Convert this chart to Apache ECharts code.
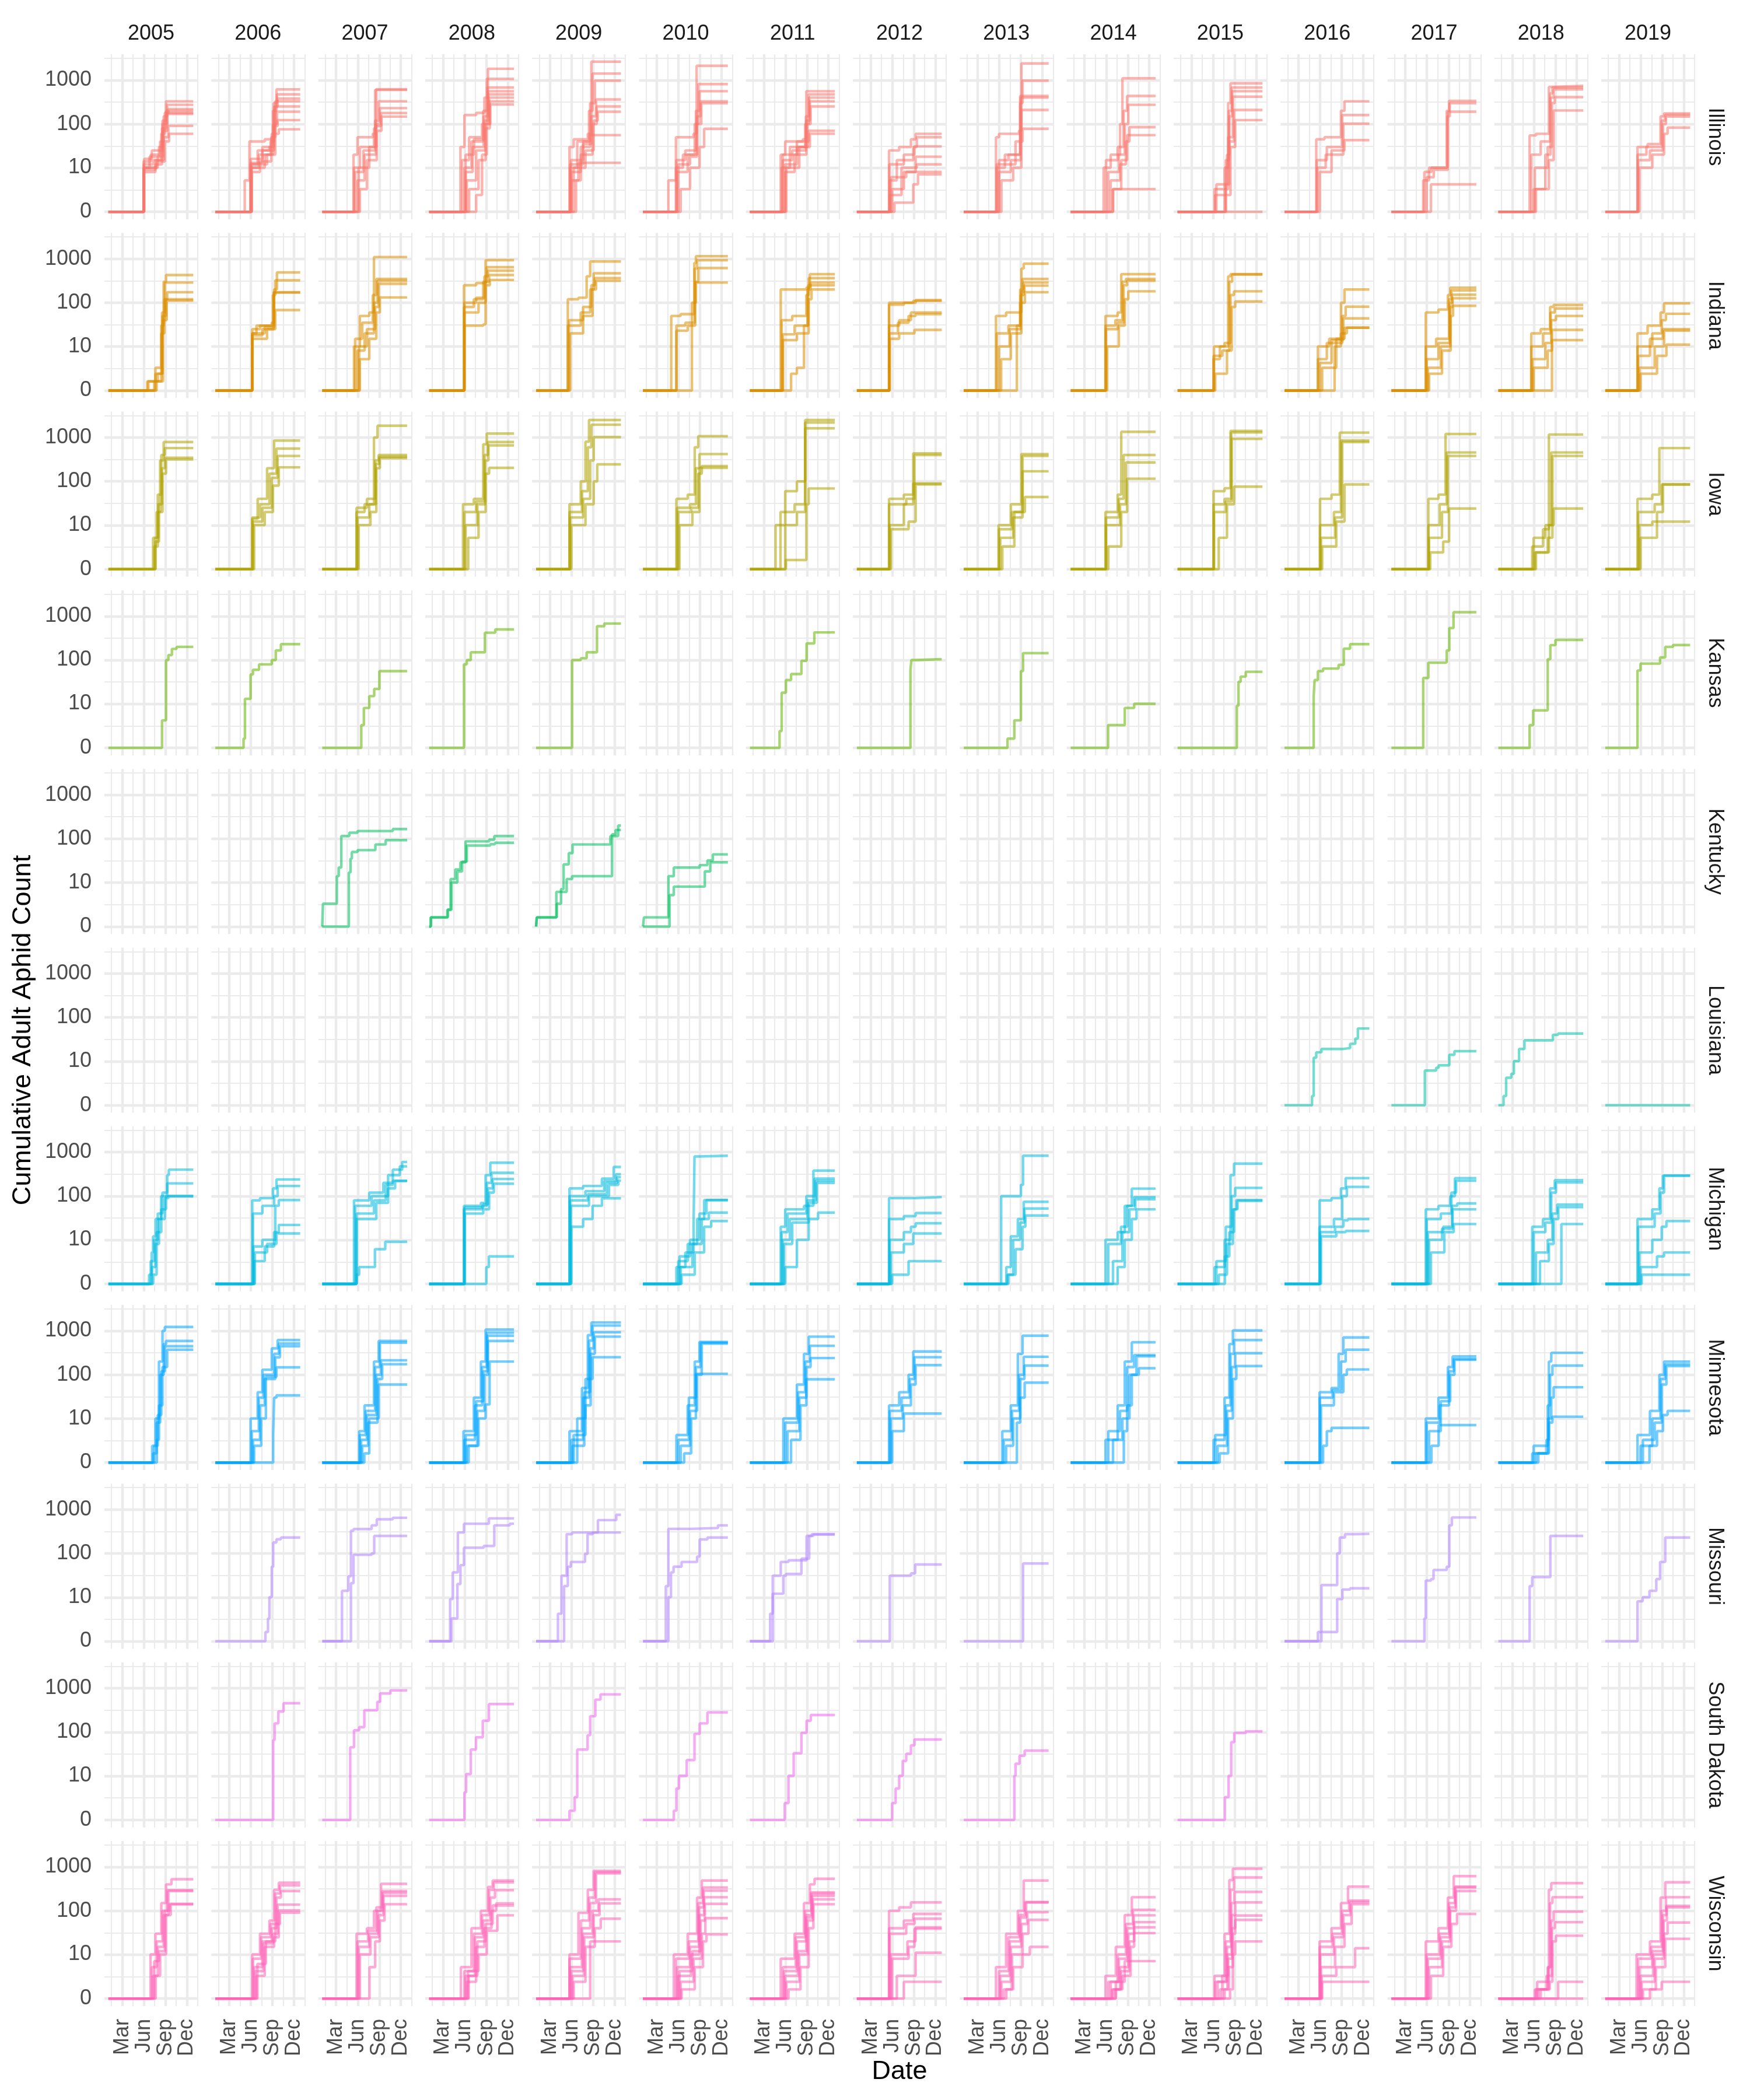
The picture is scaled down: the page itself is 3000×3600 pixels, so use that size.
<!DOCTYPE html>
<html><head><meta charset="utf-8">
<script src="https://cdn.jsdelivr.net/npm/echarts@6/dist/echarts.min.js"></script>
<style>html,body{margin:0;padding:0;background:#fff}#c{width:3000px;height:3600px}</style>
</head><body><div id="c"></div>
<script>
// ---------------- DATA ----------------
const years = [2005,2006,2007,2008,2009,2010,2011,2012,2013,2014,2015,2016,2017,2018,2019];
const states = ['Illinois','Indiana','Iowa','Kansas','Kentucky','Louisiana','Michigan','Minnesota','Missouri','South Dakota','Wisconsin'];
const stateColors = ['#F8766D','#DB8E00','#AEA200','#64B200','#00BD5C','#00C1A7','#00BADE','#00A6FF','#B385FF','#EF67EB','#FF63B6'];
const monthDays = [59,151,243,334];          // Mar 1, Jun 1, Sep 1, Dec 1 (day of year)
const monthLabels = ['Mar','Jun','Sep','Dec'];
const minorDays = [13,105,197,288.5,380];
const countBreaks = [0,10,100,1000];
const countLabels = ['0','10','100','1000'];
const LAST_DAY = 361;
// each line: [day, cumulative count, day, count, ...] change points; every line starts at day 0 with 0
const illinois = [
 [[150,10,175,18,215,30,230,120,245,330],[150,14,180,20,220,40,235,150,250,275],[150,12,190,15,225,60,240,180,255,220],[150,9,200,12,228,80,245,200],[152,16,185,25,230,100,250,180],[150,10,210,18,232,70,250,170],[150,8,200,15,235,50,255,91],[152,10,205,14,240,40,258,60]],
 [[125,5,145,40,210,45,245,200,260,617],[150,12,180,25,230,30,248,300,262,475],[152,10,185,20,235,40,250,250,265,380],[150,16,200,30,240,60,255,330],[155,8,190,14,238,50,255,251],[152,10,210,20,245,100,262,191],[150,13,200,25,250,90,265,123],[155,12,220,20,255,60,270,76]],
 [[133,20,150,50,215,60,225,600],[135,10,160,30,220,80,230,620],[140,8,175,25,225,120,240,330],[150,5,180,20,228,100,245,230],[155,10,200,30,230,90,250,178],[160,3,190,15,232,70,252,148]],
 [[133,30,150,160,200,180,235,400,250,1820],[140,15,170,50,225,100,245,1070],[150,10,180,40,230,200,248,680],[155,8,185,30,232,150,250,560],[155,20,190,45,235,120,252,475],[160,5,200,25,238,100,255,400],[170,3,210,15,240,80,258,330],[200,2,225,20,245,100,260,280]],
 [[142,30,160,45,220,60,235,2630],[145,10,175,40,225,200,240,1410],[150,8,190,30,230,300,250,975],[148,15,200,35,235,150,255,363],[150,5,190,20,240,100,258,251],[160,10,210,25,245,120,262,191],[145,12,200,40,230,56],[170,5,180,13]],
 [[108,5,140,50,215,60,228,2130],[140,10,170,20,220,100,235,810],[142,15,180,25,225,200,240,560],[145,8,190,20,230,150,245,330],[150,12,200,18,230,100,248,300],[160,3,200,10,240,30,260,78]],
 [[131,20,150,40,225,45,240,560],[135,10,170,30,235,100,250,475],[140,15,180,25,238,150,252,400],[150,8,190,20,240,120,255,330],[150,12,200,30,245,100,258,251],[140,20,200,40,250,70],[155,10,210,30,255,60]],
 [[137,25,180,30,230,45,250,60],[140,5,170,15,240,30,255,50],[138,12,200,20,245,31],[150,3,200,8,250,18],[140,2,190,10,255,12],[145,6,210,8],[160,1,240,4,260,7]],
 [[137,50,150,60,235,70,245,2400],[140,10,175,20,240,300,250,975],[150,15,190,20,240,436],[150,8,200,15,242,400],[160,5,210,10,245,209],[140,12,220,40,250,78]],
 [[140,10,170,20,210,100,220,1100],[150,15,200,30,225,200,240,436],[160,8,205,20,230,100,245,275],[170,5,210,12,235,40,250,85],[180,3,215,15,240,56],[180,3]],
 [[157,3,200,10,215,300,225,850],[160,2,205,15,218,200,230,680],[165,4,210,20,220,150,232,560],[200,3,215,50,235,420],[205,4,220,40,240,209],[205,2,225,30,245,123],[]],
 [[135,45,170,50,240,200,255,330],[137,15,180,30,245,160],[140,10,175,20,250,102],[150,8,200,25,255,43]],
 [[135,5,160,10,235,200,245,338],[140,8,170,10,238,150,248,300],[150,6,180,9,240,191],[168,4]],
 [[133,55,160,60,215,700,225,740],[140,20,180,40,220,500,230,680],[150,3,200,20,222,400,235,617],[155,10,210,30,228,300,240,410],[160,3,215,15,235,204]],
 [[137,30,180,35,235,150,250,174],[137,20,175,30,240,120,255,162],[140,15,190,25,245,100,258,148],[145,10,200,20,250,60,265,83]]
];
const indiana = [
 [[165,1,200,3,225,30,235,300,245,427],[170,1,210,2,228,60,240,288],[195,1,225,20,238,120,250,174],[200,2,230,50,245,120],[205,1,232,40,248,112]],
 [[157,20,175,30,240,35,250,200,262,490],[157,25,190,30,245,150,255,324],[157,18,200,25,248,174],[157,20,210,28,250,170],[157,15,220,25,255,68]],
 [[135,10,160,50,200,60,220,1100],[140,15,170,35,215,150,230,347],[150,8,180,20,220,100,235,316],[157,10,190,25,225,80,240,270],[160,5,200,15,230,60,245,132]],
 [[148,250,200,280,240,930],[148,80,190,120,230,300,245,645],[150,100,200,130,235,400,250,537],[150,60,210,100,240,300,255,427],[150,30,230,32,240,250,258,330]],
 [[135,120,180,130,215,400,230,870],[135,30,190,60,230,200,245,468],[140,40,200,80,235,250,250,363],[145,20,200,50,240,200,255,316]],
 [[120,50,160,55,218,800,225,1150],[142,30,180,35,220,600,230,930],[142,23,190,30,222,300,235,617],[208,100,225,288]],
 [[131,200,240,220,255,447],[135,40,180,50,240,150,250,363],[140,19,190,30,245,200,258,288],[140,14,200,20,250,120,262,200],[175,2,200,3,230,30,248,250]],
 [[137,100,250,115],[137,90,200,100,240,110],[137,30,180,40,230,60],[138,20,175,35,220,50,250,55],[140,15,180,20,245,24]],
 [[137,50,180,60,245,600,255,775],[140,20,190,30,240,200,250,347],[150,10,195,25,242,150,255,288],[159,5,200,20,245,180,258,245],[226,30,240,100,260,174]],
 [[148,50,200,60,215,447],[148,30,190,40,220,300,235,347],[150,25,200,35,225,250,240,316],[155,10,205,30,230,120,245,182]],
 [[153,5,180,10,215,400,225,447],[153,6,190,8,220,300,232,440],[155,10,200,12,225,150,240,182],[160,2,210,8,230,80,245,107]],
 [[142,10,190,15,240,100,255,200],[142,5,180,12,245,50,260,81],[150,4,200,14,250,44],[213,10,240,20,265,27],[160,3,220,15,255,27]],
 [[146,60,200,70,240,150,250,219],[146,10,190,15,245,120,255,191],[150,5,200,12,248,100,258,152],[155,3,210,10,250,80,260,126],[160,2,215,8,252,50,262,85]],
 [[140,20,180,25,220,80,235,89],[140,10,190,20,222,60,240,74],[145,5,200,12,225,40,245,50],[150,3,210,8,228,24],[228,14]],
 [[137,20,180,30,235,60,250,97],[137,10,200,20,240,40,258,56],[140,6,190,15,245,25],[145,3,210,10,250,23],[150,2,220,6,260,11]]
];
const iowa = [
 [[190,5,205,20,220,300,235,790],[195,3,210,50,225,400,240,575],[200,5,212,30,228,200,240,347],[200,4,215,20,230,150,245,316]],
 [[157,14,180,40,220,200,250,850],[157,15,190,30,230,150,260,560],[160,12,200,25,240,120,265,380],[165,10,210,20,245,80,270,209]],
 [[146,20,180,30,220,1000,235,1860],[146,25,190,40,225,300,240,400],[150,15,200,30,228,250,242,363],[155,10,205,20,230,200,245,340]],
 [[144,30,190,40,230,700,245,1230],[150,20,200,35,235,400,250,790],[155,10,205,30,238,300,252,660],[166,5,210,20,240,150,255,204]],
 [[142,30,190,100,210,800,225,2500],[142,20,195,60,220,600,235,1950],[145,15,200,40,230,300,245,1025],[150,10,210,30,245,100,260,245]],
 [[142,40,190,50,220,600,235,1070],[145,25,200,30,225,200,240,420],[150,20,205,25,235,150,250,224],[155,10,210,20,240,204]],
 [[109,10,150,60,200,100,235,2500],[130,20,190,30,235,2190],[150,10,200,20,235,1620],[153,1,240,30,250,69]],
 [[137,40,200,50,240,436],[137,30,210,40,245,400],[140,10,200,30,240,90],[145,8,220,12,250,85]],
 [[148,10,200,30,245,420],[150,8,205,20,250,380],[155,5,210,15,250,170],[164,3,215,20,260,44]],
 [[148,20,200,50,215,1350],[150,15,205,40,225,400],[150,10,210,30,235,270],[160,3,215,20,240,115]],
 [[153,60,200,70,225,1410],[153,30,200,40,228,1300],[155,20,205,35,230,930],[175,5,210,30,240,76]],
 [[151,40,200,50,235,1290],[151,10,210,20,240,850],[155,5,215,15,245,790],[160,3,220,12,255,85]],
 [[157,40,200,50,230,1200],[157,10,205,30,235,457],[160,5,215,20,240,380],[165,2,220,4,245,24]],
 [[144,3,190,8,215,1170],[150,5,200,10,225,457],[155,2,210,5,230,380],[160,2,215,10,235,24]],
 [[137,40,200,50,230,575],[140,20,210,30,240,85],[145,10,200,12],[150,5,220,20,245,85]]
];
const kansas = [
 [[228,4,245,100,255,130,270,180,290,200]],
 [[120,1,126,13,150,47,160,60,186,80,240,100,257,166,279,230]],
 [[166,3,177,8,200,15,221,22,243,56]],
 [[148,80,160,100,177,150,237,420,281,500]],
 [[153,100,190,110,215,150,259,590,290,680]],
 [],
 [[126,2,135,18,153,35,175,48,219,96,241,240,274,427]],
 [[228,60,232,100,250,105]],
 [[186,1,215,4,243,56,252,144]],
 [[159,3,230,8,270,10]],
 [[252,9,259,32,268,42,290,54]],
 [[124,15,128,35,142,56,164,64,230,78,252,182,279,230]],
 [[135,39,157,87,230,90,235,166,246,537,264,1230]],
 [[133,3,148,7,210,105,221,219,243,288]],
 [[137,58,150,83,233,115,255,200,288,220]]
];
const kentucky = [
 [],[],
 [[3,3,62,14,70,22,81,115,115,137,150,150,300,166],[113,17,120,35,126,50,150,55,226,74,270,93]],
 [[7,1,77,2,91,12,111,20,133,29,155,87,255,95,277,115],[7,1,80,2,95,10,120,18,140,30,160,70,260,75,280,81]],
 [[3,1,88,3,106,7,117,26,139,47,155,74,316,115,349,200],[3,1,86,6,130,12,153,14,323,126,338,158]],
 [[4,1,108,14,131,22,241,25,274,32,297,44],[113,5,131,8,263,18,286,29]],
 [],[],[],[],[],[],[],[],[]
];
const louisiana = [
 [],[],[],[],[],[],[],[],[],[],[],
 [[117,1,124,12,135,16,157,19,246,20,279,25,301,33,312,56]],
 [[142,6,190,7,201,8,246,14,268,17]],
 [[22,1,33,4,55,5,66,10,88,19,111,30,232,40,254,43]],
 [[]]
];
const michigan = [
 [[173,1,184,5,190,12,201,30,224,100,250,300,257,400],[180,3,195,10,210,40,230,120,250,195],[185,2,200,8,215,30,240,90,255,100],[190,1,205,15,225,50,245,100]],
 [[157,80,190,90,245,150,260,240],[160,40,200,60,250,100,265,170],[162,7,200,10,255,60,270,81],[165,3,210,7,250,15,270,22],[168,5,220,8,260,14]],
 [[135,80,200,120,260,200,300,400,340,600],[140,60,210,100,280,300,330,475],[146,40,220,80,270,180,300,224],[146,30,230,70,280,150,310,220],[146,1,157,2,224,6,268,9]],
 [[148,60,220,70,240,300,260,575],[148,50,225,60,245,200,265,340],[150,55,230,65,250,150,270,245],[152,40,230,50,255,120,275,191],[243,2,254,4]],
 [[142,150,200,170,280,250,330,460],[142,100,210,130,290,220,340,316],[145,80,220,110,300,200,345,270],[148,60,225,100,310,180,350,224],[150,20,200,30,240,60,280,89]],
 [[142,2,180,5,215,20,219,800,240,830],[150,3,190,8,230,30,260,81],[155,4,200,10,240,40,270,81],[160,2,210,8,250,30,280,42],[164,1,220,5,260,20,290,27]],
 [[131,20,150,50,230,60,270,380],[135,15,160,40,240,100,275,251],[140,10,170,30,245,80,280,224],[145,8,180,25,250,70,285,200],[150,2,200,10,250,30,290,42]],
 [[137,90,250,95],[137,30,200,35,250,41],[140,10,200,15,230,20,250,24],[145,5,200,8,240,14],[150,1,220,3]],
 [[159,100,243,180,252,830],[181,2,200,12,230,30,255,74],[185,1,210,10,240,25,258,52],[190,1,220,6,250,20,262,36]],
 [[148,10,200,15,230,60,260,148],[160,8,214,20,240,60,270,95],[180,3,220,15,250,50,275,85],[200,2,230,10,260,30,280,50]],
 [[157,2,200,10,225,300,240,550],[165,3,205,20,230,100,245,154],[175,1,210,8,235,50,250,81],[201,4,220,15,240,50,255,78]],
 [[149,80,200,90,240,150,260,257],[149,20,210,30,245,100,265,162],[152,15,215,20,250,28,270,30],[155,12,220,15,260,16]],
 [[146,50,200,60,250,100,270,257],[150,30,210,40,255,120,275,224],[155,15,220,20,258,60,280,68],[160,10,215,18,260,50],[168,5,225,15,265,23]],
 [[144,20,190,30,220,150,240,230],[150,15,200,25,225,120,245,204],[160,5,210,10,230,40,250,64],[177,3,215,8,235,30,255,56],[268,23]],
 [[137,30,200,50,230,150,245,295],[140,20,210,40,235,120,250,290],[145,5,200,10,240,20,260,27],[150,2,220,4,250,5],[155,1]]
];
const minnesota = [
 [[186,2,200,10,215,200,230,1000,240,1230],[190,1,205,8,220,100,235,500,245,590],[195,2,210,12,225,120,240,447],[206,3,215,20,230,150,250,372]],
 [[150,10,180,40,200,130,240,400,265,617],[155,5,185,30,205,100,250,300,270,513],[160,3,190,20,210,80,255,250,275,447],[165,2,195,10,215,90,260,148],[246,4,250,30,260,34]],
 [[157,5,180,20,220,200,240,590],[160,4,185,15,225,150,245,537],[165,3,190,12,230,100,250,214],[170,2,195,8,235,80,255,174],[179,1,200,10,240,60]],
 [[146,5,190,30,220,200,240,1070],[150,3,195,20,225,150,245,910],[155,4,200,25,230,120,248,775],[160,2,205,15,235,100,250,590],[168,2,210,10,240,21,257,200]],
 [[142,5,195,50,220,800,235,1550],[150,3,200,30,225,600,240,1320],[155,2,205,40,230,400,245,930],[160,4,210,20,232,300,250,740],[175,10,210,80,240,251]],
 [[142,4,190,20,220,200,240,560],[150,3,195,30,225,150,245,540],[160,2,200,15,230,100,250,513],[175,1,205,10,225,105]],
 [[142,10,200,60,230,300,250,740],[150,8,205,40,235,200,255,457],[160,5,210,30,240,150,258,240],[175,3,215,20,240,79]],
 [[137,20,180,40,220,100,240,340],[140,15,190,30,225,80,245,251],[145,10,195,20,230,60,250,166],[150,5,200,13]],
 [[164,5,200,20,230,300,250,775],[170,3,205,15,235,100,255,257],[180,2,210,10,240,80,258,162],[226,8,240,30,259,66]],
 [[148,3,200,20,230,200,260,550],[160,5,210,15,240,150,270,282],[180,3,220,10,250,100,280,263],[226,5,240,20,260,100,290,141]],
 [[153,3,200,30,220,500,235,1025],[160,4,205,20,225,300,240,617],[170,2,210,15,230,150,245,310],[179,1,215,10,235,80,250,158]],
 [[149,40,200,50,230,300,250,710],[150,30,205,45,240,200,260,372],[155,20,210,40,250,100,265,132],[164,2,180,5,200,6]],
 [[146,10,200,30,240,150,260,263],[150,8,205,20,245,120,265,230],[160,5,210,25,250,100,268,219],[170,2,201,7]],
 [[144,1,205,3,215,200,225,316],[150,2,210,20,220,100,230,162],[160,1,212,10,225,30,235,52],[170,1,215,8,230,11]],
 [[137,4,190,15,230,100,250,200],[150,2,200,10,235,80,255,174],[160,3,210,8,240,60,260,158],[188,2,220,5,245,12,265,15]]
];
const missouri = [
 [],
 [[213,1,224,3,230,10,240,50,246,178,260,210,279,230]],
 [[84,14,111,30,122,330,133,360,210,436,232,600,300,650],[122,21,133,93,210,100,221,251]],
 [[89,9,100,37,122,300,148,475,254,630],[95,3,120,20,133,54,148,135,232,148,277,436,343,475]],
 [[93,4,108,31,130,275,153,300,263,575,341,760],[119,18,135,50,148,64,208,98,219,275,241,300]],
 [[97,18,108,363,208,380,319,436],[108,10,119,37,130,50,164,64,230,85,241,209,274,230]],
 [[86,4,97,31,131,64,164,70,241,251,263,275],[97,12,142,31,153,34,219,76,252,251,270,270]],
 [[140,31,230,35,248,56]],
 [[252,59]],
 [],[],
 [[142,1,157,19,224,100,235,230,257,275,301,280],[157,1,224,9,246,15,279,16]],
 [[140,3,146,24,168,26,179,42,235,50,246,436,257,660]],
 [[133,18,144,29,221,251]],
 [[137,8,159,10,188,14,217,26,233,64,255,230]]
];
const southDakota = [
 [],
 [[246,66,252,158,268,295,290,457]],
 [[119,45,135,110,157,130,179,316,234,490,246,760,290,890]],
 [[150,4,157,11,177,40,199,76,228,182,254,436]],
 [[142,1,164,3,175,40,219,85,230,230,252,550,274,725]],
 [[131,1,142,5,153,10,186,23,219,91,241,158,274,282]],
 [[148,2,164,10,186,33,219,96,241,182,259,245]],
 [[150,2,165,5,180,10,195,22,210,32,230,50,245,68]],
 [[215,10,220,19,237,29,259,38]],
 [],
 [[201,3,217,10,228,59,241,96,290,104]],
 [],[],[],[]
];
const wisconsin = [
 [[179,10,200,30,225,150,245,400,268,525],[185,5,205,20,230,100,250,295],[190,3,210,15,235,80,255,282],[195,7,215,12,240,100,260,144],[201,3,220,10,245,80,265,140]],
 [[157,10,190,30,230,60,250,300,270,436],[160,8,195,25,235,50,255,250,275,380],[165,5,200,20,240,40,260,200,279,282],[170,4,205,18,245,30,265,138],[175,3,210,15,250,25,270,102],[179,6,215,20,255,50,275,91]],
 [[146,30,190,40,220,100,250,410],[150,20,195,35,230,120,255,282],[155,15,200,30,235,100,258,257],[160,10,205,25,240,80,260,219],[201,5,225,20,245,60,265,141]],
 [[135,5,180,40,220,100,250,350,270,490],[150,4,190,30,225,80,255,300,275,447],[155,3,195,25,230,60,260,200,280,295],[160,2,200,15,235,40,265,100,285,148],[168,3,205,20,240,50,270,132],[165,4,210,10,245,35,290,79]],
 [[142,10,180,90,220,300,245,810],[142,8,190,60,225,200,250,760],[145,5,195,40,230,150,255,710],[150,4,200,30,240,100,265,182],[155,3,205,25,245,80,270,148],[160,2,210,15,250,40,275,66],[230,20]],
 [[131,10,190,30,230,200,250,490],[140,8,195,20,235,150,255,340],[145,5,200,15,238,120,258,288],[150,3,205,10,240,80,260,204],[155,4,210,12,245,60,263,144],[160,2,215,8,250,30,265,68],[164,1,220,5,255,20,270,29]],
 [[131,8,190,30,230,150,255,400,275,537],[140,5,195,25,235,100,260,263],[145,4,200,20,238,80,262,245],[150,3,205,12,240,70,265,219],[155,2,210,10,245,60,268,182],[164,1,215,5,250,40,270,141]],
 [[137,100,180,120,230,155],[137,40,200,60,240,85],[140,30,210,50,245,66],[145,10,215,20,250,42],[150,8,220,15,245,39],[170,3,250,11],[200,2]],
 [[137,5,180,30,230,100,255,490],[150,4,190,25,235,80,260,158],[155,3,195,20,240,70,265,155],[160,2,200,15,245,50,270,93],[170,1,205,10,250,30,275,62],[181,1,210,5,250,10,281,15]],
 [[148,3,192,15,230,80,260,204],[160,2,200,10,235,50,265,105],[170,2,205,8,240,40,268,79],[175,1,210,5,245,30,270,55],[180,1,215,4,250,20,270,42],[190,1,220,3,255,15,270,31],[192,2,230,7]],
 [[157,3,200,30,220,500,235,910],[160,2,205,20,225,300,240,575],[170,2,210,15,228,150,242,270],[180,1,212,10,230,80,245,155],[190,3,215,8,232,40,245,78],[200,1,218,5,235,30,245,62],[223,1,235,10,245,20]],
 [[149,20,200,40,240,150,270,355],[150,15,205,30,245,100,275,170],[152,10,210,25,250,80,280,158],[155,5,215,15,255,50,285,141],[158,3,220,5,300,14],[160,2]],
 [[146,20,200,40,240,200,265,617],[150,10,205,30,245,150,270,355],[155,8,210,25,248,120,272,340],[160,5,215,20,250,100,275,282],[168,3,220,15,255,50,279,85]],
 [[155,1,205,3,215,300,225,427],[160,1,210,5,220,150,230,204],[165,2,212,5,225,60,235,96],[170,1,215,3,228,40,240,55],[180,1,218,2,230,20,245,27],[254,2],[]],
 [[133,10,190,20,235,200,255,447],[140,8,195,15,240,100,258,204],[145,5,200,12,245,80,260,129],[150,3,205,10,248,60,262,120],[155,2,210,8,250,30,265,54],[160,1,215,5,255,23],[190,1,240,2]]
];
const stateData = [illinois, indiana, iowa, kansas, kentucky, louisiana, michigan, minnesota, missouri, southDakota, wisconsin];

// ---------------- LAYOUT / STYLE ----------------
const L0 = 179, T0 = 93, PX = 183.29, PY = 306.3, PW = 160, PH = 283;
const X_MIN = -17, X_MAX = 380, Y_MIN = -0.171, Y_MAX = 3.59;
const FONT = '"Liberation Sans", Arial, Helvetica, sans-serif';
const GRID_COL = '#EBEBEB';

// pseudo-log transform (sigma = 1, base 10), as the axis of the source chart
const tr = v => Math.asinh(v / 2) / Math.LN10;
const yMajor = countBreaks.map(tr);
const yMinor = [];
for (let k = 0; k < yMajor.length - 1; k++) yMinor.push((yMajor[k] + yMajor[k + 1]) / 2);
yMinor.push(yMajor[yMajor.length - 1] + 0.5);

function linePoints(flat) {
  const pts = [[0, 0]];
  for (let k = 0; k < flat.length; k += 2) pts.push([flat[k], tr(flat[k + 1])]);
  pts.push([LAST_DAY, pts[pts.length - 1][1]]);
  return pts;
}

const grid = [], xAxis = [], yAxis = [], series = [], graphic = [];
const nR = states.length, nC = years.length;

const gridLineData = [
  ...monthDays.map(v => ({ xAxis: v, lineStyle: { width: 4.4 } })),
  ...minorDays.map(v => ({ xAxis: v, lineStyle: { width: 2.2 } })),
  ...yMajor.map(v => ({ yAxis: v, lineStyle: { width: 4.4 } })),
  ...yMinor.map(v => ({ yAxis: v, lineStyle: { width: 2.2 } }))
];

for (let r = 0; r < nR; r++) {
  for (let c = 0; c < nC; c++) {
    const i = r * nC + c;
    grid.push({ left: L0 + c * PX, top: T0 + r * PY, width: PW, height: PH, containLabel: false, show: false });
    const bottom = r === nR - 1, left = c === 0;
    xAxis.push({
      type: 'value', gridIndex: i, min: X_MIN, max: X_MAX,
      axisLine: { show: false }, axisTick: { show: false, customValues: monthDays },
      splitLine: { show: false }, minorSplitLine: { show: false },
      axisLabel: bottom ? {
        show: true, customValues: monthDays, rotate: 90, margin: 22, hideOverlap: false,
        fontSize: 36, color: '#4D4D4D', fontFamily: FONT,
        formatter: v => { const k = monthDays.findIndex(d => Math.abs(d - v) < 0.5); return k >= 0 ? monthLabels[k] : ''; }
      } : { show: false }
    });
    yAxis.push({
      type: 'value', gridIndex: i, min: Y_MIN, max: Y_MAX,
      axisLine: { show: false }, axisTick: { show: false, customValues: yMajor },
      splitLine: { show: false }, minorSplitLine: { show: false },
      axisLabel: left ? {
        show: true, customValues: yMajor, margin: 22, hideOverlap: false,
        fontSize: 36, color: '#4D4D4D', fontFamily: FONT,
        formatter: v => { const k = yMajor.findIndex(d => Math.abs(d - v) < 1e-3); return k >= 0 ? countLabels[k] : ''; }
      } : { show: false }
    });
    // panel grid lines (drawn beneath the data)
    series.push({
      type: 'line', xAxisIndex: i, yAxisIndex: i, data: [[X_MIN, Y_MIN]], symbol: 'none',
      lineStyle: { opacity: 0, width: 0 }, silent: true, z: 0, zlevel: 0, animation: false,
      markLine: {
        silent: true, symbol: ['none', 'none'], label: { show: false }, animation: false,
        z: 0, zlevel: 0,
        lineStyle: { color: GRID_COL, type: 'solid', width: 4.4, opacity: 1 },
        emphasis: { disabled: true },
        data: gridLineData
      }
    });
    // data lines
    const lines = stateData[r][c] || [];
    lines.forEach(flat => {
      series.push({
        type: 'line', xAxisIndex: i, yAxisIndex: i, data: linePoints(flat), step: 'end',
        symbol: 'none', showSymbol: false, silent: true, z: 10, zlevel: 0, animation: false,
        lineStyle: { color: stateColors[r], width: 4.4, opacity: 0.55 },
        itemStyle: { color: stateColors[r] },
        emphasis: { disabled: true }
      });
    });
  }
}

// strip labels
years.forEach((y, c) => graphic.push({
  type: 'text', x: L0 + c * PX + PW / 2, y: 58, silent: true,
  style: { text: String(y), fill: '#1A1A1A', fontSize: 36, fontFamily: FONT, align: 'center', verticalAlign: 'middle' }
}));
states.forEach((s, r) => graphic.push({
  type: 'text', x: 2940, y: T0 + r * PY + PH / 2, rotation: -Math.PI / 2, silent: true,
  style: { text: s, fill: '#1A1A1A', fontSize: 36, fontFamily: FONT, align: 'center', verticalAlign: 'middle' }
}));
// axis titles
graphic.push({
  type: 'text', x: L0 + ((nC - 1) * PX + PW) / 2, y: 3552, silent: true,
  style: { text: 'Date', fill: '#000000', fontSize: 45, fontFamily: FONT, align: 'center', verticalAlign: 'middle' }
});
graphic.push({
  type: 'text', x: 40, y: T0 + ((nR - 1) * PY + PH) / 2, rotation: Math.PI / 2, silent: true,
  style: { text: 'Cumulative Adult Aphid Count', fill: '#000000', fontSize: 45, fontFamily: FONT, align: 'center', verticalAlign: 'middle' }
});

const chart = echarts.init(document.getElementById('c'), null, { renderer: 'canvas', width: 3000, height: 3600 });
chart.setOption({
  animation: false,
  backgroundColor: '#FFFFFF',
  textStyle: { fontFamily: FONT },
  grid, xAxis, yAxis, series, graphic
});
</script>
</body></html>
